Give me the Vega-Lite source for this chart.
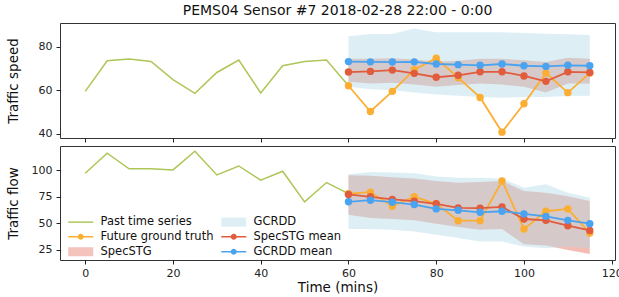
{
  "$schema": "https://vega.github.io/schema/vega-lite/v6.json",
  "padding": {"left": 5, "top": 3, "right": 5, "bottom": 0},
  "spacing": 2,
  "resolve": {"scale": {"color": "independent", "shape": "independent"}, "legend": {"color": "independent", "shape": "independent"}},
  "datasets": {
    "speed": [
      {"t": 0, "past": 59.5}, {"t": 5, "past": 73.6}, {"t": 10, "past": 74.4}, {"t": 15, "past": 73.3},
      {"t": 20, "past": 64.9}, {"t": 25, "past": 58.6}, {"t": 30, "past": 68.2}, {"t": 35, "past": 73.9},
      {"t": 40, "past": 58.8}, {"t": 45, "past": 71.3}, {"t": 50, "past": 73.3}, {"t": 55, "past": 73.9},
      {"t": 60, "past": 62.1, "truth": 62.1, "spec": 68.4, "spec_lo": 63.9, "spec_hi": 74.5, "gc": 73.2, "gc_lo": 61.6, "gc_hi": 84.9},
      {"t": 65, "truth": 50.2, "spec": 68.7, "spec_lo": 63.1, "spec_hi": 74.5, "gc": 73.1, "gc_lo": 60.5, "gc_hi": 85.9},
      {"t": 70, "truth": 59.5, "spec": 69.3, "spec_lo": 63.5, "spec_hi": 74.8, "gc": 73.0, "gc_lo": 60.0, "gc_hi": 85.9},
      {"t": 75, "truth": 69.5, "spec": 67.8, "spec_lo": 62.6, "spec_hi": 74.2, "gc": 73.1, "gc_lo": 59.0, "gc_hi": 88.5},
      {"t": 80, "truth": 74.8, "spec": 66.0, "spec_lo": 61.6, "spec_hi": 73.3, "gc": 72.1, "gc_lo": 58.1, "gc_hi": 86.7},
      {"t": 85, "truth": 65.8, "spec": 66.9, "spec_lo": 62.4, "spec_hi": 73.6, "gc": 71.8, "gc_lo": 57.5, "gc_hi": 86.7},
      {"t": 90, "truth": 56.7, "spec": 68.5, "spec_lo": 63.1, "spec_hi": 74.5, "gc": 71.5, "gc_lo": 56.9, "gc_hi": 86.7},
      {"t": 95, "truth": 40.7, "spec": 68.5, "spec_lo": 62.6, "spec_hi": 74.5, "gc": 72.1, "gc_lo": 56.6, "gc_hi": 86.7},
      {"t": 100, "truth": 53.8, "spec": 66.6, "spec_lo": 61.6, "spec_hi": 73.8, "gc": 71.3, "gc_lo": 56.9, "gc_hi": 86.4},
      {"t": 105, "truth": 67.9, "spec": 64.1, "spec_lo": 59.0, "spec_hi": 73.0, "gc": 71.0, "gc_lo": 56.9, "gc_hi": 86.1},
      {"t": 110, "truth": 58.9, "spec": 68.5, "spec_lo": 63.1, "spec_hi": 75.0, "gc": 71.5, "gc_lo": 57.3, "gc_hi": 85.8},
      {"t": 115, "truth": 67.9, "spec": 68.2, "spec_lo": 63.1, "spec_hi": 74.5, "gc": 71.3, "gc_lo": 57.5, "gc_hi": 85.5}
    ],
    "flow": [
      {"t": 0, "past": 97.2}, {"t": 5, "past": 116.0}, {"t": 10, "past": 101.3}, {"t": 15, "past": 101.3},
      {"t": 20, "past": 100.3}, {"t": 25, "past": 117.9}, {"t": 30, "past": 95.6}, {"t": 35, "past": 104.0},
      {"t": 40, "past": 90.6}, {"t": 45, "past": 99.0}, {"t": 50, "past": 70.2}, {"t": 55, "past": 88.4},
      {"t": 60, "past": 78.0, "truth": 77.9, "spec": 77.2, "spec_lo": 58.2, "spec_hi": 95.3, "gc": 70.3, "gc_lo": 44.6, "gc_hi": 96.2},
      {"t": 65, "truth": 79.4, "spec": 75.0, "spec_lo": 55.0, "spec_hi": 94.7, "gc": 71.8, "gc_lo": 44.6, "gc_hi": 98.4},
      {"t": 70, "truth": 66.1, "spec": 72.5, "spec_lo": 54.0, "spec_hi": 93.4, "gc": 69.9, "gc_lo": 44.0, "gc_hi": 97.8},
      {"t": 75, "truth": 75.0, "spec": 70.9, "spec_lo": 52.8, "spec_hi": 92.1, "gc": 67.7, "gc_lo": 42.4, "gc_hi": 97.2},
      {"t": 80, "truth": 68.5, "spec": 68.4, "spec_lo": 49.7, "spec_hi": 89.9, "gc": 63.6, "gc_lo": 39.2, "gc_hi": 94.0},
      {"t": 85, "truth": 52.5, "spec": 64.6, "spec_lo": 46.5, "spec_hi": 88.3, "gc": 62.3, "gc_lo": 36.1, "gc_hi": 93.0},
      {"t": 90, "truth": 52.5, "spec": 64.3, "spec_lo": 44.0, "spec_hi": 89.0, "gc": 60.4, "gc_lo": 32.9, "gc_hi": 93.0},
      {"t": 95, "truth": 89.9, "spec": 65.5, "spec_lo": 44.6, "spec_hi": 89.9, "gc": 61.4, "gc_lo": 32.9, "gc_hi": 92.1},
      {"t": 100, "truth": 44.6, "spec": 54.1, "spec_lo": 30.4, "spec_hi": 80.4, "gc": 58.9, "gc_lo": 28.1, "gc_hi": 83.5},
      {"t": 105, "truth": 61.4, "spec": 52.8, "spec_lo": 29.1, "spec_hi": 78.8, "gc": 56.6, "gc_lo": 26.6, "gc_hi": 86.7},
      {"t": 110, "truth": 63.6, "spec": 47.8, "spec_lo": 25.0, "spec_hi": 75.6, "gc": 52.8, "gc_lo": 28.1, "gc_hi": 78.8},
      {"t": 115, "truth": 40.8, "spec": 43.3, "spec_lo": 21.2, "spec_hi": 71.0, "gc": 49.7, "gc_lo": 26.6, "gc_hi": 74.0}
    ]
  },
  "vconcat": [
    {
      "width": 555,
      "height": 115,
      "title": {"text": "PEMS04 Sensor #7 2018-02-28 22:00 - 0:00", "frame": "group", "anchor": "middle", "fontSize": 14, "font": "DejaVu Sans", "fontWeight": "normal", "color": "#111", "offset": 5},
      "data": {"name": "speed"},
      "encoding": {
        "x": {"field": "t", "type": "quantitative", "scale": {"domain": [-5.75, 120.75], "nice": false, "zero": false},
              "axis": {"values": [0, 20, 40, 60, 80, 100, 120], "tickCount": 10, "labels": false, "title": null}}
      },
      "layer": [
        {"mark": {"type": "area", "color": "rgba(225,90,70,0.4)"},
         "encoding": {"y": {"field": "spec_lo", "type": "quantitative", "scale": {"domain": [38, 91], "nice": false, "zero": false},
                            "axis": {"values": [40, 60, 80], "tickCount": 10, "title": "Traffic speed", "titleX": -40}},
                      "y2": {"field": "spec_hi"}}},
        {"mark": {"type": "area", "color": "rgba(173,216,230,0.42)"},
         "encoding": {"y": {"field": "gc_lo", "type": "quantitative"}, "y2": {"field": "gc_hi"}}},
        {"mark": {"type": "line", "strokeWidth": 1.5, "color": "#aec657"},
         "encoding": {"y": {"field": "past", "type": "quantitative"}}},
        {"mark": {"type": "line", "strokeWidth": 1.8, "color": "#fcae32", "point": {"filled": true, "size": 55, "color": "#fcae32"}},
         "encoding": {"y": {"field": "truth", "type": "quantitative"}}},
        {"mark": {"type": "line", "strokeWidth": 1.8, "color": "#e15c3d", "point": {"filled": true, "size": 55, "color": "#e15c3d"}},
         "encoding": {"y": {"field": "spec", "type": "quantitative"}}},
        {"mark": {"type": "line", "strokeWidth": 1.8, "color": "#4aa3f0", "point": {"filled": true, "size": 55, "color": "#4aa3f0"}},
         "encoding": {"y": {"field": "gc", "type": "quantitative"}}}
      ]
    },
    {
      "width": 555,
      "height": 114,
      "data": {"name": "flow"},
      "encoding": {
        "x": {"field": "t", "type": "quantitative", "scale": {"domain": [-5.75, 120.75], "nice": false, "zero": false},
              "axis": {"values": [0, 20, 40, 60, 80, 100, 120], "tickCount": 10, "title": "Time (mins)", "labelPadding": 3, "titlePadding": 2}}
      },
      "layer": [
        {"mark": {"type": "area", "color": "rgba(225,90,70,0.4)"},
         "encoding": {"y": {"field": "spec_lo", "type": "quantitative", "scale": {"domain": [15.5, 122.8], "nice": false, "zero": false},
                            "axis": {"values": [25, 50, 75, 100], "tickCount": 10, "title": "Traffic flow", "titleX": -40, "labelOverlap": false}},
                      "y2": {"field": "spec_hi"}}},
        {"mark": {"type": "area", "color": "rgba(173,216,230,0.42)"},
         "encoding": {"y": {"field": "gc_lo", "type": "quantitative"}, "y2": {"field": "gc_hi"}}},
        {"mark": {"type": "line", "strokeWidth": 1.5, "color": "#aec657"},
         "encoding": {"y": {"field": "past", "type": "quantitative"}}},
        {"mark": {"type": "line", "strokeWidth": 1.8, "color": "#fcae32", "point": {"filled": true, "size": 55, "color": "#fcae32"}},
         "encoding": {"y": {"field": "truth", "type": "quantitative"}}},
        {"mark": {"type": "line", "strokeWidth": 1.8, "color": "#e15c3d", "point": {"filled": true, "size": 55, "color": "#e15c3d"}},
         "encoding": {"y": {"field": "spec", "type": "quantitative"}}},
        {"mark": {"type": "line", "strokeWidth": 1.8, "color": "#4aa3f0", "point": {"filled": true, "size": 55, "color": "#4aa3f0"}},
         "encoding": {"y": {"field": "gc", "type": "quantitative"}}},
        {"transform": [{"filter": "false"}],
         "mark": {"type": "point", "filled": true, "size": 100, "strokeWidth": 0, "opacity": 1},
         "encoding": {
           "color": {"field": "series", "type": "nominal",
                     "scale": {"domain": ["Past time series", "Future ground truth", "SpecSTG", "GCRDD", "SpecSTG mean", "GCRDD mean"], "range": ["#aec657", "#fcae32", "rgba(225,90,70,0.36)", "rgba(173,216,230,0.42)", "#e15c3d", "#4aa3f0"]},
                     "legend": {"orient": "none", "legendX": 15, "legendY": 70, "columns": 2, "symbolSize": 100, "labelOffset": 14, "columnPadding": 7, "rowPadding": 2, "labelFont": "DejaVu Sans", "labelFontSize": 11.5, "labelColor": "#111", "title": null, "symbolStrokeWidth": 0, "padding": 0, "symbolOpacity": 1}},
           "shape": {"field": "series", "type": "nominal",
                     "scale": {"domain": ["Past time series", "Future ground truth", "SpecSTG", "GCRDD", "SpecSTG mean", "GCRDD mean"],
                               "range": ["M-2.5,-0.15H2.5V0.15H-2.5Z", "M-2.5,-0.15H2.5V0.15H-2.5ZM0.6,0A0.6,0.6,0,1,1,-0.6,0A0.6,0.6,0,1,1,0.6,0Z", "M-2.5,-0.9H2.5V0.9H-2.5Z", "M-2.5,-0.9H2.5V0.9H-2.5Z", "M-2.5,-0.15H2.5V0.15H-2.5ZM0.6,0A0.6,0.6,0,1,1,-0.6,0A0.6,0.6,0,1,1,0.6,0Z", "M-2.5,-0.15H2.5V0.15H-2.5ZM0.6,0A0.6,0.6,0,1,1,-0.6,0A0.6,0.6,0,1,1,0.6,0Z"]},
                     "legend": {"orient": "none", "legendX": 15, "legendY": 70, "columns": 2, "symbolSize": 100, "labelOffset": 14, "columnPadding": 7, "rowPadding": 2, "labelFont": "DejaVu Sans", "labelFontSize": 11.5, "labelColor": "#111", "title": null, "symbolStrokeWidth": 0, "padding": 0, "symbolOpacity": 1}}
         }}
      ]
    }
  ],
  "config": {
    "font": "DejaVu Sans",
    "view": {"stroke": "#333", "strokeWidth": 1},
    "axis": {"grid": false, "domain": false, "tickColor": "#222", "tickSize": 4, "labelPadding": 4, "labelFont": "DejaVu Sans", "labelFontSize": 11, "labelColor": "#222", "titleFont": "DejaVu Sans", "titleFontSize": 13.5, "titleFontWeight": "normal", "titleColor": "#111"}
  }
}
